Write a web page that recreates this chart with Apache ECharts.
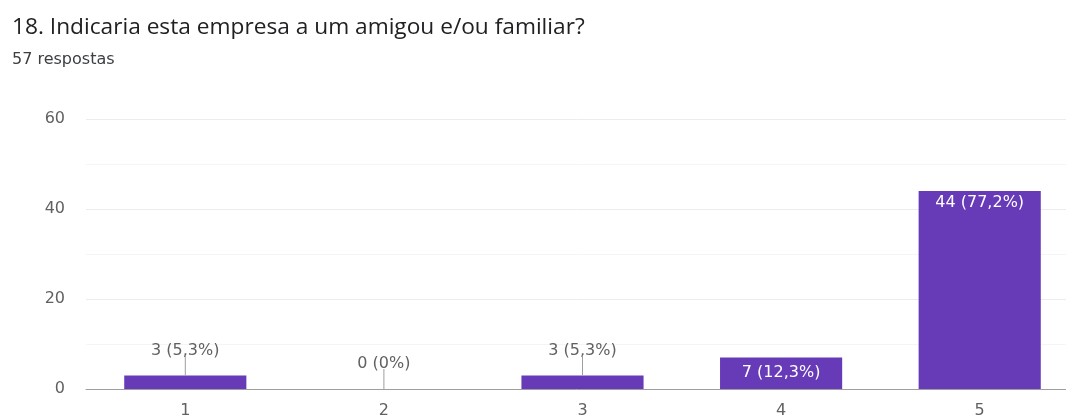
<!DOCTYPE html>
<html>
<head>
<meta charset="utf-8">
<script src="https://cdn.jsdelivr.net/npm/echarts@6/dist/echarts.min.js"></script>
<style>
  html, body { margin: 0; padding: 0; background: #fff; }
  #chart { width: 1066px; height: 416px; }
</style>
</head>
<body>
<div id="chart"></div>
<script>
// dados da pergunta 18
var categorias = ['1', '2', '3', '4', '5'];
var respostas = [3, 0, 3, 7, 44];
var percentuais = ['5,3%', '0%', '5,3%', '12,3%', '77,2%'];
var yTicks = [0, 20, 40, 60];

var corBarra = '#673ab7';

var myChart = echarts.init(document.getElementById('chart'));

// barras pequenas tem o rotulo por cima, com um tracinho
var dadosBarra = respostas.map(function (v, i) {
    var label;
    if (v < 5) {
        label = { position: 'top', distance: 17, color: '#616161' };
    } else if (v < 10) {
        label = { position: 'inside', color: '#ffffff' };
    } else {
        label = { position: 'insideTop', distance: 4, color: '#ffffff' };
    }
    return { value: v, label: label };
});

var option = {
    animation: false,
    textStyle: { fontFamily: 'DejaVu Sans, sans-serif' },
    title: [
        {
            text: '18. Indicaria esta empresa a um amigou e/ou familiar?',
            left: 12, top: 16,
            padding: 0,
            textStyle: { fontSize: 22.7, fontWeight: 'normal', color: '#202124', fontFamily: 'Open Sans' }
        },
        {
            text: '57 respostas',
            left: 12, top: 52,
            padding: 0,
            textStyle: { fontSize: 16, fontWeight: 'normal', color: '#3c4043', fontFamily: 'DejaVu Sans' }
        }
    ],
    grid: { left: 86, top: 119, width: 993, height: 270, outerBoundsMode: 'none' },
    xAxis: {
        type: 'category',
        data: categorias,
        axisTick: { show: false },
        axisLine: { lineStyle: { color: '#9e9e9e', width: 1 } },
        axisLabel: { color: '#616161', fontSize: 16, margin: 14 }
    },
    yAxis: {
        type: 'value',
        min: 0, max: yTicks[yTicks.length - 1], interval: yTicks[1] - yTicks[0],
        axisLine: { show: false },
        axisTick: { show: false },
        axisLabel: { color: '#616161', fontSize: 16, margin: 21 },
        splitLine: { lineStyle: { color: '#ececec' } },
        minorTick: { show: false, splitNumber: 2 },
        minorSplitLine: { show: true, lineStyle: { color: '#f5f5f5' } }
    },
    series: [
        {
            type: 'bar',
            data: dadosBarra,
            barWidth: '61.5%',
            itemStyle: { color: corBarra },
            label: {
                show: true,
                fontSize: 16,
                formatter: function (p) {
                    return p.value + ' (' + percentuais[p.dataIndex] + ')';
                }
            },
            z: 2
        },
        {
            // tracinhos dos rotulos de fora
            type: 'custom',
            data: respostas.map(function (v, i) { return [i, v]; }),
            renderItem: function (params, api) {
                var v = api.value(1);
                if (v >= 5) return null;
                var p = api.coord([api.value(0), v]);
                return {
                    type: 'line',
                    shape: { x1: p[0], y1: p[1], x2: p[0], y2: p[1] - 20 },
                    style: { stroke: '#9e9e9e', lineWidth: 1 }
                };
            },
            silent: true,
            z: 3
        }
    ]
};

myChart.setOption(option);
</script>
</body>
</html>
